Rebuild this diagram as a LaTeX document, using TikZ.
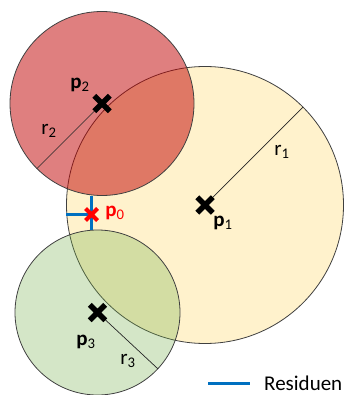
\documentclass[tikz,border=0pt]{standalone}
\usepackage{fontspec}
\setmainfont{Carlito}
\usetikzlibrary{shapes.misc}
\definecolor{gelb}{HTML}{FFF2CC}
\definecolor{rot}{HTML}{C00000}
\definecolor{gruen}{HTML}{70AD47}
\definecolor{blau}{HTML}{0070C0}
\begin{document}
\begin{tikzpicture}[x=1pt, y=-1pt,
  kreis/.style={circle, draw=black!75, line width=0.8pt, inner sep=0pt},
  kreuz/.style={cross out, draw=black, line width=5.5pt, minimum size=10pt, inner sep=0pt},
  radlinie/.style={draw=black!85, line width=0.7pt},
  resid/.style={draw=blau, line width=3pt},
  lab/.style={font=\fontsize{21}{25}\selectfont, inner sep=0pt}
]
\useasboundingbox (0,0) rectangle (346,395);
% Kreise
\node[kreis, fill=gelb, minimum size=277pt] (c1) at (205,205) {};
\node[kreis, fill=rot, fill opacity=0.5, minimum size=184pt] (c2) at (102,103.5) {};
\node[kreis, fill=gruen, fill opacity=0.3, minimum size=165pt] (c3) at (97.5,312.5) {};
% Radien
\foreach \i/\w in {1/45,2/225,3/-43} {
  \draw[radlinie] (c\i.center) -- (c\i.\w);
}
% Residuen
\coordinate (p0) at (91.5,214.5);
\draw[resid] (p0) -- (p0 -| c1.west);
\draw[resid] (p0) -- (p0 |- c2.south);
\draw[resid] (p0) -- (p0 |- c3.north);
% Punkte
\foreach \i in {1,2,3} {
  \node[kreuz] (p\i) at (c\i.center) {};
}
\node[kreuz, draw=red, line width=4pt, minimum size=8pt] (x0) at (p0) {};
% Beschriftungen
\foreach \i/\x/\y in {1/223/223,2/80/85,3/86/342} {
  \node[lab] (lp\i) at (\x,\y) {\textbf{p}\textsubscript{\i}};
}
\foreach \i/\x/\y in {1/282/152,2/49/131,3/128/361} {
  \node[lab] (lr\i) at (\x,\y) {r\textsubscript{\i}};
}
\node[lab, text=red] (lp0) at (115,213) {\textbf{p}\textsubscript{0}};
% Legende
\coordinate (la) at (208,383);
\coordinate (lb) at (250,383);
\draw[resid] (la) -- (lb);
\node[lab, anchor=west] (leg) at (264,383) {Residuen};
\end{tikzpicture}
\end{document}
